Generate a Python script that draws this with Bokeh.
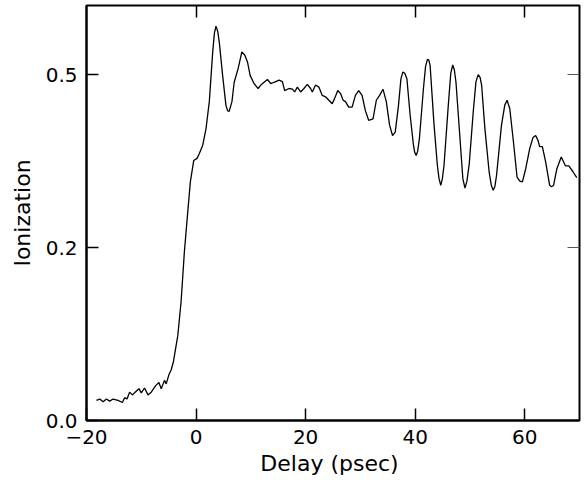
from bokeh.plotting import figure
from bokeh.models import LinearAxis, FixedTicker, Range1d
from bokeh.embed import file_html
from bokeh.resources import INLINE

# Delay (psec)
delay = [-18.18, -17.58, -16.96, -16.36, -15.76, -15.15, -14.24, -13.45, -13.04, -12.60,
         -12.13, -11.64, -11.22, -10.42, -10.00, -9.40, -8.78, -8.18, -7.40, -6.78,
         -6.36, -5.76, -5.45, -4.96, -4.55, -4.13, -3.33, -2.73, -2.13, -1.51,
         -1.04, -0.42, 0.18, 0.60, 1.22, 1.82, 2.42, 3.04, 3.35, 3.64, 3.95, 4.24,
         4.85, 5.45, 5.75, 6.05, 6.55, 6.96, 7.69, 8.36, 8.91, 9.40, 9.87,
         10.60, 11.33, 11.82, 12.42, 13.04, 13.64, 14.24, 15.15, 15.76, 16.18,
         16.96, 17.58, 18.00, 18.49, 19.09, 19.69, 20.31, 20.91, 21.22, 21.82,
         22.42, 23.04, 23.64, 24.24, 24.85, 25.27, 25.87, 26.36, 26.85, 27.27,
         27.87, 28.49, 29.09, 29.69, 30.31, 30.91, 31.51, 32.31, 32.91, 33.51,
         34.13, 34.73, 35.33, 35.87, 36.36, 36.96, 37.40, 37.76, 38.10, 38.49, 39.09, 39.69,
         39.90, 40.18, 40.45, 40.78, 41.51, 41.90, 42.24, 42.50, 42.73, 43.45, 44.05,
         44.35, 44.67, 44.95, 45.27, 46.05, 46.50, 46.85, 47.15, 47.45, 48.18,
         48.70, 49.09, 49.45, 49.87, 50.60, 51.10, 51.51, 51.85, 52.13, 52.73, 53.51,
         53.90, 54.24, 54.55, 54.85, 55.76, 56.36, 56.78, 57.27, 57.87, 58.60, 59.10, 59.58, 60.18,
         60.91, 61.51, 62.00, 62.42, 62.73, 63.22, 63.82, 64.55, 64.90, 65.27, 65.87,
         66.67, 67.45, 68.05, 68.78, 69.51]

# Ionization
ionization = [0.029, 0.031, 0.027, 0.031, 0.028, 0.031, 0.029, 0.026, 0.033, 0.031,
              0.041, 0.037, 0.040, 0.046, 0.040, 0.047, 0.037, 0.041, 0.050, 0.055,
              0.046, 0.058, 0.053, 0.066, 0.073, 0.085, 0.123, 0.172, 0.244, 0.302,
              0.345, 0.376, 0.379, 0.386, 0.398, 0.422, 0.461, 0.533, 0.560, 0.570, 0.563, 0.547,
              0.499, 0.456, 0.448, 0.447, 0.461, 0.489, 0.509, 0.533, 0.528, 0.518, 0.499,
              0.487, 0.480, 0.485, 0.489, 0.493, 0.487, 0.489, 0.492, 0.490, 0.477,
              0.480, 0.479, 0.475, 0.482, 0.475, 0.480, 0.486, 0.480, 0.475, 0.485,
              0.482, 0.470, 0.468, 0.463, 0.458, 0.465, 0.477, 0.473, 0.463, 0.461,
              0.453, 0.453, 0.470, 0.477, 0.470, 0.448, 0.434, 0.436, 0.463, 0.470,
              0.479, 0.461, 0.427, 0.412, 0.417, 0.456, 0.494, 0.504, 0.502, 0.494, 0.441, 0.398,
              0.388, 0.383, 0.389, 0.408, 0.480, 0.512, 0.522, 0.521, 0.513, 0.427, 0.369,
              0.350, 0.340, 0.349, 0.369, 0.456, 0.502, 0.514, 0.507, 0.489, 0.408,
              0.350, 0.336, 0.346, 0.371, 0.446, 0.490, 0.500, 0.496, 0.485, 0.422, 0.359,
              0.340, 0.333, 0.338, 0.354, 0.427, 0.456, 0.463, 0.451, 0.408, 0.352, 0.346, 0.345, 0.364,
              0.393, 0.409, 0.412, 0.405, 0.396, 0.396, 0.374, 0.340, 0.338, 0.340, 0.364,
              0.381, 0.368, 0.368, 0.360, 0.351]

x_ticks = [-20, 0, 20, 40, 60]
x_tick_labels = {-20: "\u221220", 0: "0", 20: "20", 40: "40", 60: "60"}
y_ticks = [0.0, 0.25, 0.5]
y_tick_labels = {0.0: "0.0", 0.25: "0.2", 0.5: "0.5"}

FONT = "DejaVu Sans"

p = figure(output_backend="svg", toolbar_location=None,
           frame_width=493, frame_height=415,
           x_range=Range1d(-20, 70), y_range=Range1d(0, 0.6),
           min_border_left=86, min_border_right=2, min_border_top=5, min_border_bottom=4)

p.line(delay, ionization, line_color="black", line_width=1.3)

p.grid.visible = False
p.background_fill_color = "white"
p.border_fill_color = "white"
p.outline_line_color = "black"
p.outline_line_width = 2

for ax in (p.xaxis[0], p.yaxis[0]):
    ax.major_tick_in = 12
    ax.major_tick_out = 0
    ax.minor_tick_line_color = None
    ax.axis_line_width = 2
    ax.major_tick_line_width = 1.5
    ax.major_label_text_font = FONT
    ax.major_label_text_font_size = "20px"
    ax.major_label_text_color = "black"
    ax.axis_label_text_font = FONT
    ax.axis_label_text_font_size = "22px"
    ax.axis_label_text_font_style = "normal"
    ax.axis_label_text_color = "black"

p.xaxis[0].ticker = FixedTicker(ticks=x_ticks)
p.xaxis[0].major_label_overrides = x_tick_labels
p.xaxis[0].axis_label = "Delay  (psec)"
p.xaxis[0].major_label_standoff = 9
p.xaxis[0].axis_label_standoff = 4

p.yaxis[0].ticker = FixedTicker(ticks=y_ticks)
p.yaxis[0].major_label_overrides = y_tick_labels
p.yaxis[0].axis_label = "Ionization"
p.yaxis[0].major_label_standoff = 9
p.yaxis[0].axis_label_standoff = 8

top = LinearAxis(ticker=FixedTicker(ticks=[0, 20, 40, 60]),
                 major_label_text_font_size="1px", major_label_text_color=None,
                 major_label_standoff=0,
                 axis_line_color=None, major_tick_in=12, major_tick_out=0,
                 minor_tick_line_color=None, major_tick_line_width=1.5)
p.add_layout(top, "above")

right = LinearAxis(ticker=FixedTicker(ticks=[0.25, 0.5]),
                   major_label_text_font_size="1px", major_label_text_color=None,
                   major_label_standoff=0,
                   axis_line_color=None, major_tick_in=12, major_tick_out=0,
                   minor_tick_line_color=None, major_tick_line_width=1,
                   major_tick_line_color="#555555")
p.add_layout(right, "right")

open("out.html", "w").write(file_html(p, INLINE))
